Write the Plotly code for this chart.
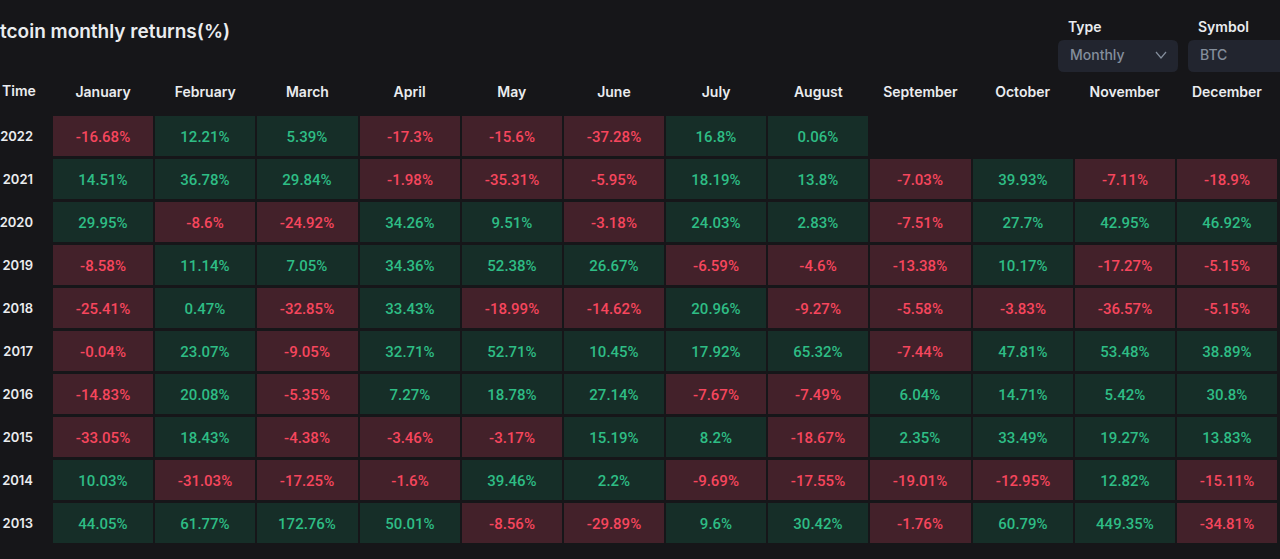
import plotly.graph_objects as go

months = ["January", "February", "March", "April", "May", "June", "July",
          "August", "September", "October", "November", "December"]
years = ["2022", "2021", "2020", "2019", "2018", "2017", "2016", "2015", "2014", "2013"]

r2022 = [-16.68, 12.21, 5.39, -17.3, -15.6, -37.28, 16.8, 0.06, None, None, None, None]
r2021 = [14.51, 36.78, 29.84, -1.98, -35.31, -5.95, 18.19, 13.8, -7.03, 39.93, -7.11, -18.9]
r2020 = [29.95, -8.6, -24.92, 34.26, 9.51, -3.18, 24.03, 2.83, -7.51, 27.7, 42.95, 46.92]
r2019 = [-8.58, 11.14, 7.05, 34.36, 52.38, 26.67, -6.59, -4.6, -13.38, 10.17, -17.27, -5.15]
r2018 = [-25.41, 0.47, -32.85, 33.43, -18.99, -14.62, 20.96, -9.27, -5.58, -3.83, -36.57, -5.15]
r2017 = [-0.04, 23.07, -9.05, 32.71, 52.71, 10.45, 17.92, 65.32, -7.44, 47.81, 53.48, 38.89]
r2016 = [-14.83, 20.08, -5.35, 7.27, 18.78, 27.14, -7.67, -7.49, 6.04, 14.71, 5.42, 30.8]
r2015 = [-33.05, 18.43, -4.38, -3.46, -3.17, 15.19, 8.2, -18.67, 2.35, 33.49, 19.27, 13.83]
r2014 = [10.03, -31.03, -17.25, -1.6, 39.46, 2.2, -9.69, -17.55, -19.01, -12.95, 12.82, -15.11]
r2013 = [44.05, 61.77, 172.76, 50.01, -8.56, -29.89, 9.6, 30.42, -1.76, 60.79, 449.35, -34.81]

rows = [r2022, r2021, r2020, r2019, r2018, r2017, r2016, r2015, r2014, r2013]

BG = "#161619"
GREEN_CELL = "#162e28"
RED_CELL = "#43212a"
GREEN_TXT = "#2ebd85"
RED_TXT = "#f6465d"
WHITE = "#eaecef"
FONT = "Inter"
CELL_FONT = "Roboto"


def fmt(v):
    return f"{v}%"


pos_z, pos_t, neg_z, neg_t = [], [], [], []
for row in rows:
    pz, pt, nz, nt = [], [], [], []
    for v in row:
        if v is not None and v >= 0:
            pz.append(v); pt.append(fmt(v)); nz.append(None); nt.append("")
        elif v is not None:
            nz.append(v); nt.append(fmt(v)); pz.append(None); pt.append("")
        else:
            pz.append(None); pt.append(""); nz.append(None); nt.append("")
    pos_z.append(pz); pos_t.append(pt); neg_z.append(nz); neg_t.append(nt)

fig = go.Figure()
fig.add_trace(go.Heatmap(
    x=months, y=years, z=pos_z, text=pos_t, texttemplate="%{text}",
    textfont=dict(color=GREEN_TXT, size=15, family=CELL_FONT, weight=500),
    colorscale=[[0, GREEN_CELL], [1, GREEN_CELL]], showscale=False,
    xgap=2, ygap=3, hoverinfo="skip"))
fig.add_trace(go.Heatmap(
    x=months, y=years, z=neg_z, text=neg_t, texttemplate="%{text}",
    textfont=dict(color=RED_TXT, size=15, family=CELL_FONT, weight=500),
    colorscale=[[0, RED_CELL], [1, RED_CELL]], showscale=False,
    xgap=2, ygap=3, hoverinfo="skip"))

W, H = 1280, 559
ML, MR, MT, MB = 52, 2, 115, 14
PW, PH = W - ML - MR, H - MT - MB


def px(xp):
    return (xp - ML) / PW


def py(yp):
    return (H - MB - yp) / PH


def rrect(x0, y0, x1, y1, r):
    X0, X1 = px(x0), px(x1)
    Y0, Y1 = py(y0), py(y1)
    rx, ry = r / PW, r / PH
    return (f"M {X0+rx},{Y0} L {X1-rx},{Y0} Q {X1},{Y0} {X1},{Y0-ry} "
            f"L {X1},{Y1+ry} Q {X1},{Y1} {X1-rx},{Y1} L {X0+rx},{Y1} "
            f"Q {X0},{Y1} {X0},{Y1+ry} L {X0},{Y0-ry} Q {X0},{Y0} {X0+rx},{Y0} Z")


shapes = [
    dict(type="path", xref="paper", yref="paper", path=rrect(1058, 40, 1178, 72, 6),
         fillcolor="#22252f", line=dict(width=0), layer="below"),
    dict(type="path", xref="paper", yref="paper", path=rrect(1188, 40, 1300, 72, 6),
         fillcolor="#22252f", line=dict(width=0), layer="below"),
    dict(type="path", xref="paper", yref="paper",
         path=f"M {px(1156)},{py(52)} L {px(1161)},{py(58)} L {px(1166)},{py(52)}",
         line=dict(color="#848e9c", width=1.2)),
]


def label(text, x, y, color, size, weight):
    return dict(text=text, xref="paper", yref="paper", x=px(x), y=py(y), xanchor="left",
                yanchor="middle", showarrow=False, borderpad=0,
                font=dict(color=color, size=size, family=FONT, weight=weight))


annotations = [
    label("Time", 1, 91, WHITE, 14, 600),
    label("Type", 1067, 27, WHITE, 14, 600),
    label("Symbol", 1197, 27, WHITE, 14, 600),
    label("Monthly", 1069, 55, "#848e9c", 14, 500),
    label("BTC", 1199, 55, "#848e9c", 14, 500),
]

fig.update_layout(
    width=W, height=H,
    margin=dict(l=ML, r=MR, t=MT, b=MB, pad=0, autoexpand=False),
    paper_bgcolor=BG, plot_bgcolor=BG,
    title=dict(text="tcoin monthly returns(%)", x=0, xref="container", xanchor="left",
               y=1 - 31 / H, yanchor="middle", automargin=False,
               font=dict(color=WHITE, size=19, family=FONT, weight=600)),
    xaxis=dict(side="top", type="category", categoryarray=months, showgrid=False,
               zeroline=False, showline=False, ticks="", ticklabelstandoff=14,
               automargin=False,
               tickfont=dict(color=WHITE, size=14, family=FONT, weight=600),
               fixedrange=True),
    yaxis=dict(type="category", categoryarray=years, autorange="reversed",
               showgrid=False, zeroline=False, showline=False, ticks="",
               ticklabelstandoff=18, automargin=False,
               tickfont=dict(color=WHITE, size=13, family=FONT, weight=600),
               fixedrange=True),
    shapes=shapes, annotations=annotations,
    showlegend=False,
)

fig.write_html("out.html", config={"displayModeBar": False},
               post_script="document.body.style.margin='0';document.body.style.overflow='hidden';")
